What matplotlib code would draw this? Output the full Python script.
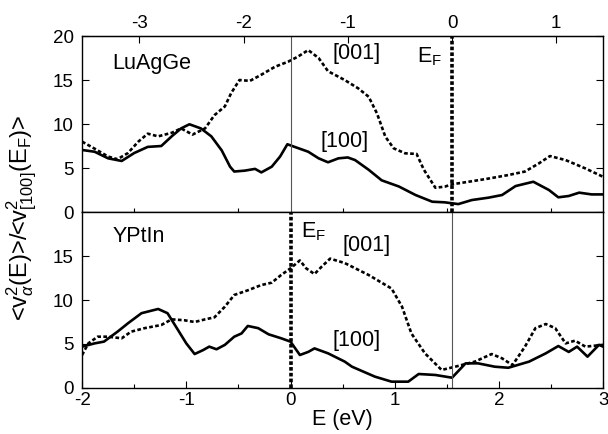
import matplotlib.pyplot as plt
import numpy as np
from matplotlib.ticker import MultipleLocator

plt.rcParams['font.family'] = ['Liberation Sans', 'DejaVu Sans']
plt.rcParams['mathtext.fontset'] = 'custom'
plt.rcParams['mathtext.rm'] = 'Liberation Sans'
plt.rcParams['mathtext.it'] = 'Liberation Sans:italic'
plt.rcParams['axes.unicode_minus'] = False

# shift between the LuAgGe Fermi level and the YPtIn energy scale (eV)
EF_SHIFT = 1.55

# ---- LuAgGe (top panel), energies on the YPtIn scale ----
lu100_E = [-2.0, -1.88, -1.75, -1.62, -1.5, -1.37, -1.24, -1.14, -1.05, -0.97, -0.86, -0.76,
           -0.66, -0.58, -0.54, -0.44, -0.34, -0.28, -0.18, -0.10, -0.03, 0.04, 0.17, 0.27,
           0.36, 0.46, 0.55, 0.62, 0.75, 0.875, 1.04, 1.20, 1.36, 1.48, 1.61, 1.74, 1.90,
           2.03, 2.16, 2.33, 2.48, 2.57, 2.67, 2.77, 2.89, 3.0]
lu100_v = [7.05, 6.85, 6.1, 5.8, 6.7, 7.4, 7.5, 8.6, 9.5, 9.97, 9.5, 8.6,
           7.0, 5.15, 4.6, 4.7, 4.9, 4.5, 5.15, 6.3, 7.7, 7.4, 6.85, 6.1,
           5.65, 6.1, 6.2, 5.9, 4.8, 3.6, 2.9, 1.93, 1.17, 1.1, 0.9, 1.36, 1.63,
           1.93, 2.95, 3.44, 2.5, 1.67, 1.82, 2.2, 2.0, 2.0]

lu001_E = [-2.0, -1.88, -1.75, -1.66, -1.56, -1.46, -1.37, -1.27, -1.14, -1.05, -0.94, -0.82,
           -0.73, -0.63, -0.57, -0.49, -0.39, -0.28, -0.15, -0.02, 0.07, 0.17, 0.27, 0.36,
           0.52, 0.65, 0.75, 0.83, 0.91, 0.99, 1.10, 1.21, 1.28, 1.39, 1.48, 1.55, 1.71,
           1.90, 2.09, 2.25, 2.38, 2.49, 2.64, 2.83, 3.0]
lu001_v = [8.0, 7.2, 6.3, 6.0, 6.7, 8.0, 8.9, 8.6, 9.0, 9.5, 8.8, 9.5,
           11.0, 12.0, 13.5, 15.0, 14.9, 15.6, 16.5, 17.1, 17.65, 18.4, 17.5, 16.0,
           15.0, 14.05, 13.1, 11.2, 8.56, 7.24, 6.67, 6.6, 4.8, 2.76, 2.88, 3.15, 3.44,
           3.8, 4.2, 4.6, 5.5, 6.36, 5.9, 4.95, 4.0]

# ---- YPtIn (bottom panel) ----
yp100_E = [-2.0, -1.88, -1.79, -1.66, -1.56, -1.43, -1.27, -1.18, -1.08, -1.0, -0.92, -0.84,
           -0.78, -0.71, -0.63, -0.54, -0.47, -0.41, -0.31, -0.21, -0.09, 0.0, 0.09, 0.17,
           0.23, 0.36, 0.52, 0.59, 0.81, 0.97, 1.13, 1.23, 1.39, 1.55, 1.68, 1.80, 1.96,
           2.09, 2.29, 2.45, 2.57, 2.67, 2.75, 2.85, 2.96, 3.0]
yp100_v = [4.7, 5.07, 5.27, 6.4, 7.35, 8.5, 8.98, 8.5, 6.6, 5.07, 3.86, 4.3,
           4.7, 4.4, 4.9, 5.83, 6.2, 7.05, 6.8, 6.1, 5.65, 5.27, 3.75, 4.1,
           4.5, 3.94, 3.0, 2.42, 1.29, 0.72, 0.72, 1.59, 1.48, 1.17, 2.8, 2.8, 2.42,
           2.3, 3.0, 3.94, 4.77, 4.1, 4.7, 3.56, 4.9, 4.7]

yp001_E = [-2.0, -1.94, -1.85, -1.75, -1.62, -1.53, -1.40, -1.24, -1.14, -1.02, -0.92, -0.82,
           -0.73, -0.63, -0.54, -0.41, -0.28, -0.18, -0.09, 0.0, 0.09, 0.15, 0.23, 0.30,
           0.38, 0.52, 0.75, 0.97, 1.07, 1.16, 1.29, 1.45, 1.58, 1.77, 1.93, 2.03, 2.13,
           2.25, 2.35, 2.45, 2.54, 2.64, 2.73, 2.83, 3.0]
yp001_v = [3.75, 5.07, 5.83, 5.83, 5.65, 6.4, 6.8, 7.16, 7.8, 7.7, 7.5, 7.8,
           8.03, 9.24, 10.57, 11.1, 11.7, 11.97, 12.84, 13.6, 14.5, 13.6, 12.95, 13.8,
           14.7, 14.2, 12.84, 11.3, 9.24, 6.2, 3.94, 2.05, 2.42, 3.0, 3.86, 3.37, 2.6,
           4.7, 6.8, 7.27, 6.8, 5.07, 5.38, 4.7, 4.9]

FS_TICK = 13.5
FS_TXT = 15.5
dot_style = (0, (1.4, 0.9))

fig = plt.figure(figsize=(6.08, 4.34), dpi=100)
ax_top = fig.add_axes([0.135, 0.5115, 0.857, 0.4055])
ax_bot = fig.add_axes([0.135, 0.106, 0.857, 0.4055], sharex=ax_top)

for ax in (ax_top, ax_bot):
    ax.set_xlim(-2, 3)
    ax.set_ylim(0, 20)
    ax.yaxis.set_major_locator(MultipleLocator(5))
    ax.tick_params(direction='in', labelsize=FS_TICK, length=5, width=0.8, right=True)
    ax.tick_params(axis='y', pad=6)
    ax.tick_params(which='minor', direction='in', length=3, width=0.8)
    for sp in ax.spines.values():
        sp.set_linewidth(1.0)

# top panel
ax_top.plot(lu100_E, lu100_v, color='black', lw=1.9)
ax_top.plot(lu001_E, lu001_v, color='black', lw=1.9, linestyle=dot_style)
ax_top.axvline(EF_SHIFT, color='black', lw=2.6, linestyle=(0, (1, 0.6)))
ax_top.axvline(0, color='#555555', lw=0.8)
ax_top.tick_params(axis='x', bottom=False, labelbottom=False)
ax_top.set_yticks([0, 5, 10, 15, 20])
sec = ax_top.secondary_xaxis('top', functions=(lambda x: x - EF_SHIFT, lambda x: x + EF_SHIFT))
sec.set_xticks([-3, -2, -1, 0, 1])
sec.tick_params(direction='in', labelsize=FS_TICK, length=5, width=0.8, pad=3)
ax_top.text(-1.71, 16.9, 'LuAgGe', fontsize=FS_TXT, va='center', ha='left')
ax_top.text(0.63, 18.0, '[001]', fontsize=FS_TXT, va='center', ha='center')
ax_top.text(1.33, 17.6, r'E$_\mathrm{F}$', fontsize=FS_TXT, va='center', ha='center')
ax_top.text(0.52, 8.0, '[100]', fontsize=FS_TXT, va='center', ha='center')

# bottom panel
ax_bot.plot(yp100_E, yp100_v, color='black', lw=1.9)
ax_bot.plot(yp001_E, yp001_v, color='black', lw=1.9, linestyle=dot_style)
ax_bot.axvline(0, color='black', lw=2.6, linestyle=(0, (1, 0.6)))
ax_bot.axvline(EF_SHIFT, color='#555555', lw=0.8)
ax_bot.set_yticks([0, 5, 10, 15])
ax_bot.xaxis.set_major_locator(MultipleLocator(1))
ax_bot.xaxis.set_minor_locator(MultipleLocator(0.5))
ax_bot.tick_params(axis='x', top=False, pad=3)
ax_bot.set_xlabel('E (eV)', fontsize=FS_TXT, labelpad=0)
ax_bot.text(-1.71, 17.2, 'YPtIn', fontsize=FS_TXT, va='center', ha='left')
ax_bot.text(0.22, 17.8, r'E$_\mathrm{F}$', fontsize=FS_TXT, va='center', ha='center')
ax_bot.text(0.73, 16.25, '[001]', fontsize=FS_TXT, va='center', ha='center')
ax_bot.text(0.63, 5.45, '[100]', fontsize=FS_TXT, va='center', ha='center')

fig.text(0.036, 0.497, r'<v$^2_\alpha$(E)>/<v$^2_{[100]}$(E$_\mathrm{F}$)>', rotation=90,
         fontsize=17, va='center', ha='center')

fig.savefig('out.png', dpi=100)
